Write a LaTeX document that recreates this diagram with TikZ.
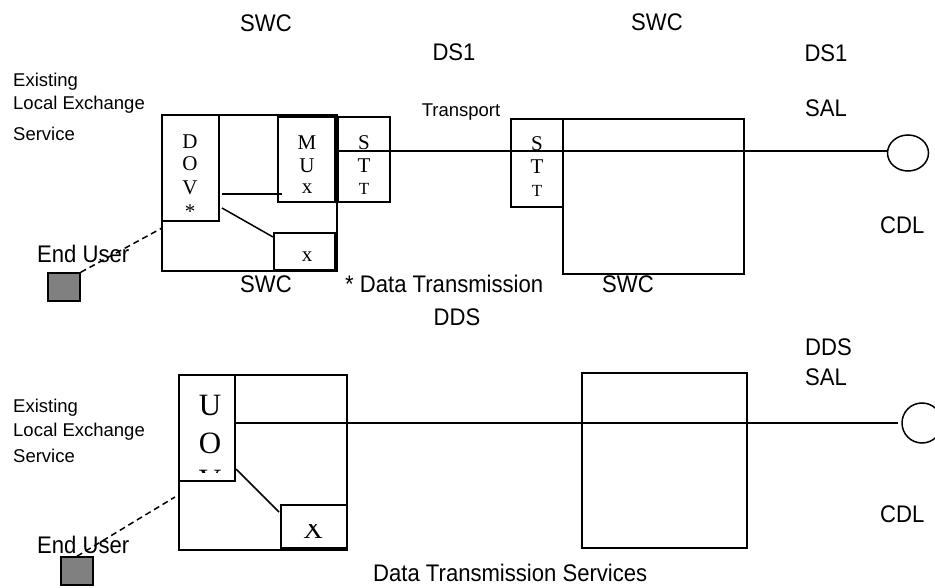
\documentclass[tikz,border=0pt]{standalone}
\usepackage{fontspec}
\setmainfont{Liberation Sans}
\newfontfamily\condf[FakeStretch=0.92]{Liberation Sans}
\newfontfamily\tnr{Liberation Serif}
\usetikzlibrary{calc,shapes.geometric}
\definecolor{ugray}{HTML}{808080}
\begin{document}
\begin{tikzpicture}[x=1pt,y=-1pt,
  lw/.style={line width=1.5pt},
  box/.style={draw,lw,inner sep=0pt,outer sep=0pt,anchor=north west},
  lbl/.style={inner sep=0pt,anchor=base,font=\condf\fontsize{24}{28}\selectfont},
  lbll/.style={inner sep=0pt,anchor=base west,font=\condf\fontsize{24}{28}\selectfont},
  sml/.style={inner sep=0pt,anchor=base west,font=\fontsize{18.5}{21}\selectfont},
  ltr/.style={inner sep=0pt,font=\tnr\fontsize{21}{24}\selectfont},
  ltrs/.style={inner sep=0pt,font=\tnr\fontsize{17}{20}\selectfont},
  bigltr/.style={inner sep=0pt,font=\tnr\fontsize{31}{34}\selectfont},
  user/.style={draw,lw,fill=ugray,inner sep=0pt,minimum width=32pt,minimum height=28pt},
  cdl/.style={draw,lw,ellipse,inner sep=0pt,outer sep=0pt},
  dsh/.style={lw,dash pattern=on 6pt off 4pt}]
\useasboundingbox (0,0) rectangle (935,588);
\clip (0,0) rectangle (935,588);
\fill[white] (0,0) rectangle (935,588);

% ---------- top: DS1 ----------
\node[box,minimum width=175pt,minimum height=156pt] (sw1) at (162,115) {};
\node[box,minimum width=57pt,minimum height=106pt] (dov) at (162,115) {};
\node[box,minimum width=57pt,minimum height=85pt] (mux) at (278,117) {};
\node[box,minimum width=52pt,minimum height=85pt] (stt1) at (338,117) {};
\node[box,minimum width=61pt,minimum height=37pt] (xb1) at (274,233) {};
\node[box,minimum width=52pt,minimum height=88pt] (stt2) at (511,119) {};
\node[box,minimum width=181pt,minimum height=155pt] (sw2) at (563,119) {};
\node[cdl,minimum width=41pt,minimum height=36pt] (cdl1) at (908,153) {};

\node[ltr] (d1) at (190,142) {D};
\node[ltr] (d2) at (190,164) {O};
\node[ltr] (d3) at (190,188) {V};
\node[ltr] (d4) at (190,212) {*};
\node[ltr] (m1) at (307,143) {M};
\node[ltr] (m2) at (307,166) {U};
\node[ltr] (m3) at (307,189) {x};
\node[ltr] (s1) at (364,143) {S};
\node[ltr] (s2) at (364,166) {T};
\node[ltrs] (s3) at (364,189) {T};
\node[ltr] (x1) at (307,257) {x};
\node[ltr] (t1) at (537,144) {S};
\node[ltr] (t2) at (537,167) {T};
\node[ltrs] (t3) at (537,191) {T};

\coordinate (a1) at (338,151);
\draw[lw] (a1) -- (a1 -| cdl1.west);
\coordinate (dm) at (222,194);
\draw[lw] (dm) -- ([xshift=4pt]dm -| mux.west);
\coordinate (dx) at (222,208);
\draw[lw] (dx) -- ([xshift=-1pt,yshift=-4pt]xb1.north west);

\node[user] (u1) at (64,287) {};
\coordinate (e1) at (162,228);
\draw[dsh] (u1.north east) -- (e1);

\node[lbl] (swc1) at (266,32) {SWC};
\node[lbl] (swc2) at (657,31) {SWC};
\node[lbl] (ds1a) at (454,61) {DS1};
\node[lbl] (ds1b) at (826,62) {DS1};
\node[inner sep=0pt,anchor=base,font=\fontsize{18.5}{21}\selectfont] (trn) at (461,117) {Transport};
\node[lbl] (sal1) at (826,117) {SAL};
\node[lbll] (cdlt1) at (880,234) {CDL};
\node[sml] (ex1) at (13,87) {Existing};
\node[sml] (le1) at (13,110) {Local Exchange};
\node[sml] (sv1) at (13,141) {Service};
\node[lbll] (eu1) at (37,263) {End User};
\node[lbl] (swc3) at (266,293) {SWC};
\node[lbll] (dtr) at (345,293) {* Data Transmission};
\node[lbl] (swc4) at (628,293) {SWC};
\node[lbl] (dds1) at (457,325) {DDS};

% ---------- bottom: DDS ----------
\node[box,minimum width=168pt,minimum height=175pt] (sw3) at (179,375) {};
\node[box,minimum width=56pt,minimum height=106pt] (uov) at (179,375) {};
\node[box,minimum width=66pt,minimum height=43pt] (xb2) at (281,505) {};
\node[box,minimum width=165pt,minimum height=175pt] (sw4) at (582,373) {};
\node[cdl,minimum width=40pt,minimum height=40pt] (cdl2) at (922,423) {};

\node[bigltr] (o1) at (210,406) {U};
\node[bigltr] (o2) at (210,443) {O};
\begin{scope}
  \clip (181,466) rectangle (233,472.5);
  \node[bigltr] (o3) at (210,481) {V};
\end{scope}
\begin{scope}
  \clip (283,524) rectangle (345,546);
  \node[inner sep=0pt,font=\tnr\fontsize{27}{30}\selectfont] (x2) at (313,530) {X};
\end{scope}

\coordinate (b1) at (235,423);
\draw[lw] (b1) -- ([xshift=-4pt]b1 -| cdl2.west);
\coordinate (ox) at (236,469);
\draw[lw] (ox) -- ([xshift=-2pt,yshift=-7pt]xb2.north west);

\node[user] (u2) at (77,571) {};
\coordinate (e2) at (175,497);
\draw[dsh] (u2.north) -- (e2);

\node[lbll] (dds2) at (805,355) {DDS};
\node[lbll] (sal2) at (805,385) {SAL};
\node[lbll] (cdlt2) at (880,522) {CDL};
\node[sml] (ex2) at (13,412) {Existing};
\node[sml] (le2) at (13,436) {Local Exchange};
\node[sml] (sv2) at (13,462) {Service};
\node[lbll] (eu2) at (37,553) {End User};
\node[lbll] (dts) at (373,581) {Data Transmission Services};
\end{tikzpicture}
\end{document}
